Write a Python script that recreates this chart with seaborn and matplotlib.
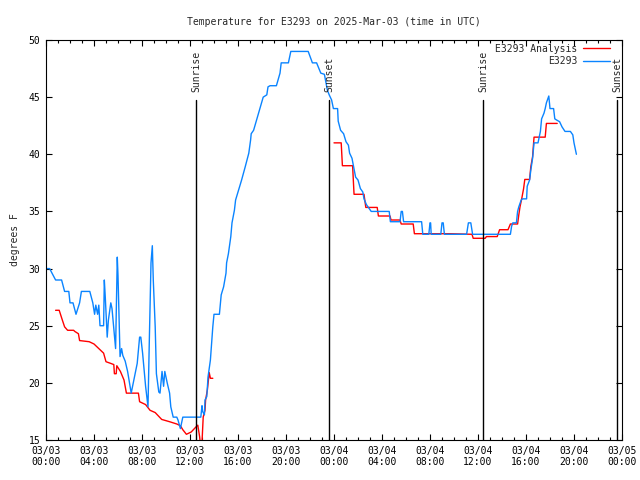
import pandas as pd
import numpy as np
import matplotlib
matplotlib.use("Agg")
import matplotlib.pyplot as plt
import matplotlib.dates as mdates
import seaborn as sns

# --- Data (hours since 2025-03-03 00:00 UTC, temperature in F) ---
obs_hours = [0.0, 0.3, 0.8, 1.3, 1.55, 1.9, 2.0, 2.25, 2.5, 2.8, 2.95, 3.65, 3.9, 4.05, 4.15,
             4.3, 4.4, 4.5, 4.8, 4.86, 4.94, 5.1, 5.2, 5.4, 5.5, 5.67, 5.8, 5.94, 6.0, 6.17,
             6.3, 6.4, 6.6, 6.8, 7.1, 7.6, 7.8, 7.9, 8.05, 8.3, 8.5, 8.6, 8.75, 8.86, 8.94,
             9.1, 9.2, 9.4, 9.5, 9.67, 9.8, 9.9, 10.0, 10.1, 10.3, 10.4, 10.6, 10.9, 11.0,
             11.2, 11.4, 12.9, 13.0, 13.05, 13.2, 13.25, 13.4, 13.5, 13.7, 13.9, 14.0, 14.45,
             14.6, 14.8, 15.0, 15.05, 15.2, 15.4, 15.5, 15.7, 15.8, 16.0, 16.3, 16.6, 16.9,
             17.05, 17.1, 17.3, 17.55, 17.8, 18.1, 18.4, 18.5, 18.67, 19.2, 19.5, 19.6, 20.2,
             20.4, 21.85, 22.2, 22.55, 22.9, 23.2, 23.45, 23.6, 23.8, 23.95, 24.3, 24.35,
             24.55, 24.8, 25.0, 25.2, 25.3, 25.5, 25.6, 25.8, 26.0, 26.2, 26.4, 26.5, 26.7,
             27.1, 28.6, 28.7, 29.5, 29.6, 29.7, 29.8, 31.3, 31.4, 31.9, 32.0, 32.05, 32.1,
             32.9, 33.0, 33.1, 33.2, 35.05, 35.2, 35.4, 35.55, 38.7, 38.8, 38.9, 39.2, 39.3,
             39.4, 39.6, 39.7, 40.05, 40.1, 40.3, 40.4, 40.55, 40.67, 41.0, 41.2, 41.3, 41.5,
             41.6, 41.7, 41.9, 42.0, 42.3, 42.4, 42.55, 42.8, 43.0, 43.25, 43.7, 43.9, 44.0,
             44.2]
obs_temp = [30.0, 30.0, 29.0, 29.0, 28.0, 28.0, 27.0, 27.0, 26.0, 27.0, 28.0, 28.0, 27.0, 26.0, 26.8,
            26.0, 26.8, 25.0, 25.0, 29.0, 27.5, 24.0, 25.5, 27.0, 26.5, 24.5, 23.0, 31.0, 29.4, 22.3,
            23.0, 22.4, 21.9, 21.0, 19.1, 21.7, 24.0, 24.0, 22.6, 19.7, 17.9, 23.2, 30.5, 32.0, 29.0,
            24.9, 20.8, 19.2, 19.1, 21.0, 19.7, 21.0, 20.5, 20.0, 19.1, 17.9, 17.0, 17.0, 16.75,
            16.0, 17.0, 17.0, 18.0, 17.5, 17.2, 18.5, 18.8, 20.5, 22.0, 24.9, 26.0, 26.0,
            27.7, 28.4, 29.6, 30.5, 31.3, 32.8, 34.0, 35.1, 36.0, 36.7, 37.75, 38.9, 40.1,
            41.25, 41.8, 42.1, 43.0, 43.9, 45.0, 45.2, 45.9, 46.0, 46.0, 47.1, 48.0, 48.0,
            49.0, 49.0, 48.0, 48.0, 47.1, 47.0, 45.6, 45.2, 44.75, 44.0, 44.0, 42.9,
            42.1, 41.8, 41.1, 40.8, 40.1, 39.65, 39.1, 38.0, 37.75, 37.0, 36.7, 36.1, 35.6,
            35.0, 35.0, 34.1, 34.1, 35.0, 35.0, 34.1, 34.1, 33.0, 33.0, 34.0, 34.0, 33.0,
            33.0, 34.0, 34.0, 33.0, 33.0, 34.0, 34.0, 33.0, 33.0, 33.7, 34.0, 34.0, 35.0,
            35.4, 36.0, 36.1, 36.1, 37.2, 37.75, 38.6, 39.65, 41.0, 41.0, 42.0, 43.1, 43.6,
            44.0, 44.5, 45.1, 44.0, 44.0, 43.1, 43.0, 42.85, 42.4, 42.0, 42.0, 41.7, 41.0,
            40.0]

# analysis series, day 1 part
ana1_hours = [0.8, 1.1, 1.36, 1.55, 1.8, 2.3, 2.4, 2.7, 2.8, 3.6, 4.0, 4.4, 4.8, 5.0, 5.4,
              5.65, 5.7, 5.85, 5.9, 6.2, 6.5, 6.7, 7.7, 7.8, 8.3, 8.67, 9.1, 9.64, 10.3, 10.9,
              11.2, 11.4, 11.7, 12.1, 12.55, 12.65, 12.8, 12.85, 13.0, 13.1, 13.25, 13.3,
              13.45, 13.55, 13.6, 13.7, 13.9]
ana1_temp = [26.35, 26.35, 25.5, 24.9, 24.6, 24.6, 24.5, 24.3, 23.7, 23.6, 23.4, 23.0, 22.6, 21.85, 21.7,
             21.6, 20.8, 20.8, 21.5, 21.0, 20.25, 19.1, 19.1, 18.35, 18.1, 17.6, 17.4, 16.8, 16.6, 16.4,
             16.25, 15.9, 15.5, 15.7, 16.2, 16.3, 15.3, 14.8, 14.8, 17.0, 17.6, 18.5,
             19.4, 20.4, 20.9, 20.4, 20.4]
# analysis series, after the gap
ana2_hours = [24.0, 24.6, 24.7, 25.55, 25.67, 26.5, 26.65, 27.6, 27.7, 28.67, 28.75, 29.5, 29.6,
              30.6, 30.7, 33.7, 35.5, 35.6, 36.6, 36.7, 37.6, 37.7, 37.8, 38.5, 38.7, 39.3, 39.4,
              39.5, 39.65, 39.8, 39.9, 40.3, 40.4, 40.55, 40.67, 41.6, 41.7, 42.6]
ana2_temp = [41.0, 41.0, 39.0, 39.0, 36.5, 36.5, 35.35, 35.35, 34.6, 34.6, 34.25, 34.25, 33.9,
             33.9, 33.05, 33.05, 33.0, 32.65, 32.65, 32.8, 32.8, 33.1, 33.4, 33.4, 33.9, 33.9, 34.7,
             35.4, 36.15, 37.0, 37.8, 37.8, 38.9, 39.8, 41.5, 41.5, 42.7, 42.7]

sun_labels = ["Sunrise", "Sunset", "Sunrise", "Sunset"]
sun_hours = [12.5, 23.58, 36.42, 47.58]

start = pd.Timestamp("2025-03-03 00:00")
to_time = lambda h: start + pd.to_timedelta(np.array(h), unit="h")

obs = pd.DataFrame({"time": to_time(obs_hours), "temp": obs_temp})
ana1 = pd.DataFrame({"time": to_time(ana1_hours), "temp": ana1_temp})
ana2 = pd.DataFrame({"time": to_time(ana2_hours), "temp": ana2_temp})

# --- Plot ---
sns.set_style("ticks")
plt.rcParams["font.family"] = ["DejaVu Sans Mono"]
plt.rcParams["font.size"] = 7

fig = plt.figure(figsize=(6.4, 4.8), dpi=100)
ax = fig.add_axes([46 / 640, 40 / 480, 576 / 640, 400 / 480])

red = "#ff0000"
blue = "#0a84ff"
sns.lineplot(data=ana1, x="time", y="temp", color=red, lw=1.0, ax=ax, label="E3293 Analysis")
sns.lineplot(data=ana2, x="time", y="temp", color=red, lw=1.0, ax=ax)
sns.lineplot(data=obs, x="time", y="temp", color=blue, lw=1.0, ax=ax, label="E3293")

for lab, h in zip(sun_labels, sun_hours):
    t = to_time([h])[0]
    ax.axvline(t, ymin=0, ymax=0.85, color="black", lw=1.0)
    ax.text(t, 0.87, lab, transform=ax.get_xaxis_transform(), rotation=90,
            ha="center", va="bottom", fontsize=7)

ax.set_xlim(start, start + pd.Timedelta(hours=48))
ax.set_ylim(15, 50)
ax.set_yticks(range(15, 51, 5))
ax.xaxis.set_major_locator(mdates.HourLocator(byhour=range(0, 24, 4)))
ax.xaxis.set_minor_locator(mdates.HourLocator())
ax.xaxis.set_major_formatter(mdates.DateFormatter("%m/%d\n%H:%M"))
ax.tick_params(which="both", direction="in", top=True, right=True, colors="black")
ax.tick_params(which="major", length=4, width=0.8, pad=4)
ax.tick_params(which="minor", length=2, width=0.8)
for s in ax.spines.values():
    s.set_linewidth(0.8)
    s.set_color("black")

ax.set_xlabel("")
ax.set_ylabel("degrees F", labelpad=6)
ax.set_title("Temperature for E3293 on 2025-Mar-03 (time in UTC)", pad=11, fontsize=7)

ax.legend(loc="upper right", bbox_to_anchor=(1 - 8 / 576, 1.0), frameon=False,
          markerfirst=False, handlelength=2.8, borderaxespad=0.2, borderpad=0.2,
          labelspacing=0.25, handletextpad=0.6, fontsize=7)

fig.savefig("out.png", dpi=100)
